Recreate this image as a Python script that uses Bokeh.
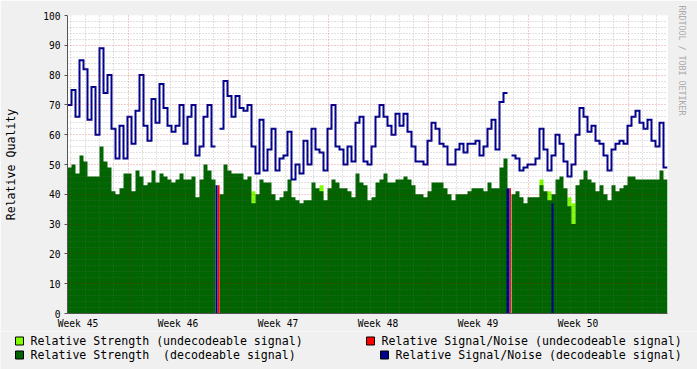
import numpy as np
from bokeh.plotting import figure
from bokeh.layouts import column
from bokeh.models import Range1d, FixedTicker, Grid, Title
from bokeh.core.properties import value
from bokeh.embed import file_html
from bokeh.resources import INLINE

# ---------------- data ----------------
week_labels = ["Week 45", "Week 46", "Week 47", "Week 48", "Week 49", "Week 50"]
week_label_days = [-3.5, 3.5, 10.5, 17.5, 24.5, 31.5]   # mid-week (day 0 = start of week 46)
week_start_days = [0, 7, 14, 21, 28, 35]
y_ticks = [0, 10, 20, 30, 40, 50, 60, 70, 80, 90, 100]

chart_start_day = -4.235
bin_hours = 6.72

# Relative Signal/Noise (decodeable signal), one value per bin
sn_decoded = [
    70, 75, 66, 85, 82, 65, 76, 60, 89, 74, 80, 62, 52, 63, 52, 66, 57, 68, 80, 63,
    58, 72, 64, 77, 69, 63, 61, 63, 70, 57, 66, 70, 53, 56, 66, 70, 56, np.nan, 62, 78,
    73, 66, 73, 69, 68, 70, 56, 47, 65, 48, 55, 62, 48, 52, 53, 61, 45, 50, 47, 58,
    50, 62, 55, 54, 48, 62, 70, 56, 55, 50, 56, 51, 64, 66, 51, 50, 56, 66, 70, 66,
    63, 60, 67, 63, 67, 61, 56, 51, 51, 50, 58, 64, 62, 57, 56, 50, 50, 55, 57, 54,
    57, 57, 58, 53, 56, 62, 65, 55, 71, 74, np.nan, 53, 52, 48, 49, 50, 50, 52, 62, 55,
    48, 53, 60, 57, 51, 46, 50, 60, 69, 66, 61, 63, 58, 57, 53, 48, 55, 57, 58, 57,
    63, 66, 68, 64, 62, 65, 58, 56, 64, 49]

# Relative Strength (decodeable signal), one value per bin
strength_decoded = [
    49, 50, 47, 53, 51, 46, 46, 46, 56, 51, 49, 41, 40, 42, 47, 47, 41, 48, 46, 43,
    44, 48, 44, 47, 46, 45, 44, 45, 47, 45, 45, 46, 39, 45, 50, 48, 45, np.nan, 40, 50,
    48, 47, 47, 47, 45, 46, 37, 40, 45, 44, 44, 40, 38, 39, 41, 45, 39, 38, 37, 38,
    38, 44, 42, 41, 38, 42, 45, 44, 42, 42, 41, 39, 47, 44, 43, 38, 39, 44, 45, 47,
    44, 44, 45, 45, 46, 45, 43, 40, 40, 39, 41, 44, 44, 44, 42, 40, 38, 40, 40, 40,
    41, 42, 42, 42, 41, 44, 42, 42, 49, 52, np.nan, 40, 41, 39, 37, 39, 39, 39, 43, 41,
    38, 40, 45, 46, 42, 36, 30, 43, 45, 48, 45, 44, 41, 43, 40, 38, 43, 41, 42, 43,
    46, 46, 45, 45, 45, 45, 45, 45, 48, 45]

# Relative Strength (undecodeable signal): only a few bins carry a value
undecoded_bins = [46, 63, 118, 120, 125, 126]
undecoded_strength = [41, 43, 45, 41, 39, 37]

# Signal losses: start (day), durations (hours) and S/N level
outage_start_day = [6.125, 26.495, 29.645]
outage_decoded_hours = [3.4, 5.0, 3.4]
outage_undecoded_hours = [3.4, 2.5, 0.0]
outage_level = [43, 42, 37]

legend_labels = ["Relative Strength (undecodeable signal)",
                 "Relative Signal/Noise (undecodeable signal)",
                 "Relative Strength\u00a0 (decodeable signal)",
                 "Relative Signal/Noise (decodeable signal)"]
watermark = "RRDTOOL / TOBI OETIKER"

# ---------------- colours / fonts ----------------
C_LGREEN = "#7FFF00"
C_DGREEN = "#006400"
C_RED = "#FF0000"
C_BLUE = "#00008C"
BACK = "#F0F0F0"
FONT = "DejaVu Sans Mono"
legend_colors = [C_LGREEN, C_RED, C_DGREEN, C_BLUE]

n = len(sn_decoded)
bw = bin_hours / 24.0
left = chart_start_day + np.arange(n) * bw
right = left + bw
x_end = chart_start_day + n * bw

fig = figure(width=697, height=331, x_range=Range1d(chart_start_day, x_end),
             y_range=Range1d(0, 100), output_backend="svg", toolbar_location=None,
             min_border_left=67, min_border_right=30, min_border_top=15,
             min_border_bottom=16)
fig.border_fill_color = BACK
fig.background_fill_color = "white"
fig.outline_line_color = None
fig.xgrid.visible = False
fig.ygrid.visible = False

# light green (undecodeable strength) behind
ub = np.array(undecoded_bins)
fig.quad(left=left[ub], right=right[ub], bottom=0, top=undecoded_strength,
         fill_color=C_LGREEN, line_color=None)

# dark green (decodeable strength) as step areas, split at missing bins
sd = np.array(strength_decoded, float)
ok = ~np.isnan(sd)
i = 0
while i < n:
    if not ok[i]:
        i += 1
        continue
    j = i
    while j < n and ok[j]:
        j += 1
    xs = np.column_stack([left[i:j], right[i:j]]).ravel()
    ys = np.repeat(sd[i:j], 2)
    fig.varea(x=xs, y1=0, y2=ys, fill_color=C_DGREEN)
    i = j

# outages
os_ = np.array(outage_start_day)
dec_end = os_ + np.array(outage_decoded_hours) / 24.0
und_end = dec_end + np.array(outage_undecoded_hours) / 24.0
fig.quad(left=dec_end, right=und_end, bottom=0, top=outage_level,
         fill_color=C_RED, line_color=None)
fig.quad(left=os_, right=dec_end, bottom=0, top=outage_level,
         fill_color=C_BLUE, line_color=None)

# S/N line as steps
xs = np.column_stack([left, right]).ravel()
ys = np.repeat(np.array(sn_decoded, float), 2)
fig.line(xs, ys, line_color=C_BLUE, line_width=2, line_join="miter")

# grids on top
day_ticks = [d for d in range(-4, 38) if d % 7 != 0]
minor_y = [v for v in range(0, 101, 2) if v % 10 != 0]
for dim, major, minor in ((0, week_start_days, day_ticks), (1, y_ticks, minor_y)):
    g = Grid(dimension=dim, ticker=FixedTicker(ticks=major, minor_ticks=minor),
             grid_line_color="#D00000", grid_line_alpha=0.4, grid_line_dash="1 2",
             minor_grid_line_color="#707070", minor_grid_line_alpha=0.4,
             minor_grid_line_dash="1 2", level="overlay")
    fig.add_layout(g)

# axes
fig.xaxis.ticker = FixedTicker(ticks=week_label_days, minor_ticks=[])
fig.xaxis.major_label_overrides = {d: lab for d, lab in zip(week_label_days, week_labels)}
fig.xaxis.major_tick_out = 0
fig.xaxis.major_tick_in = 0
fig.xaxis.minor_tick_out = 0
fig.xaxis.major_label_standoff = 4
fig.yaxis.ticker = FixedTicker(ticks=y_ticks, minor_ticks=[])
fig.yaxis.major_tick_out = 3
fig.yaxis.major_tick_in = 0
fig.yaxis.minor_tick_out = 0
fig.yaxis.major_label_standoff = 4
fig.yaxis.axis_label = "Relative Quality"
fig.yaxis.axis_label_standoff = 22
fig.yaxis.axis_label_text_font = FONT
fig.yaxis.axis_label_text_font_size = "11.6px"
fig.yaxis.axis_label_text_font_style = "normal"
fig.yaxis.axis_label_text_color = "black"
for ax in (fig.xaxis, fig.yaxis):
    ax.major_label_text_font = FONT
    ax.major_label_text_font_size = "9.6px"
    ax.major_label_text_color = "black"
    ax.axis_line_color = "#555555"
    ax.major_tick_line_color = "#555555"

# watermark as a right-hand title at the top
fig.add_layout(Title(text=watermark, align="left", offset=-10, standoff=18,
                     text_font=FONT, text_font_size="8.3px",
                     text_font_style="normal", text_color="#AAAAAA"), "right")

# ---------------- legend strip ----------------
leg = figure(width=697, height=38, x_range=Range1d(0, 697), y_range=Range1d(38, 0),
             output_backend="svg", toolbar_location=None,
             x_axis_location=None, y_axis_location=None,
             min_border=0, min_border_left=0, min_border_right=0,
             min_border_top=0, min_border_bottom=0)
leg.border_fill_color = BACK
leg.background_fill_color = BACK
leg.outline_line_color = None
leg.xgrid.visible = False
leg.ygrid.visible = False
sw_x = np.array([15, 366, 15, 380], float)
sw_y = np.array([9.5, 9.5, 23.5, 23.5], float)
leg.quad(left=sw_x, right=sw_x + 8, top=sw_y - 4, bottom=sw_y + 4,
         fill_color=legend_colors, line_color="black", line_width=1)
leg.text(x=sw_x + 15, y=sw_y, text=legend_labels, text_font=value(FONT),
         text_font_size="11.6px", text_baseline="middle", text_align="left",
         text_color="black")

for f in (fig, leg):
    try:
        f.frame_align = False
    except Exception:
        pass

p = column(fig, leg, spacing=0)
open("out.html", "w").write(file_html(p, INLINE))
